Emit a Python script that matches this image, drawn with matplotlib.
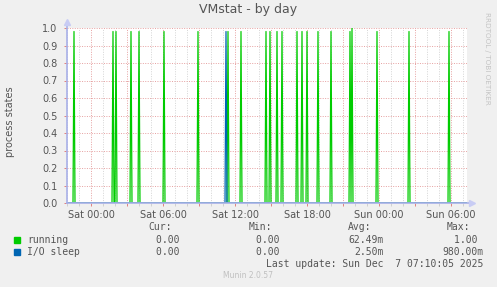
import matplotlib
matplotlib.use('Agg')
import matplotlib.pyplot as plt
import matplotlib.dates as mdates
from datetime import datetime, timedelta

# 数据
t_start = datetime(2025, 12, 5, 22, 0)
t_end = datetime(2025, 12, 7, 7, 20)

running_times = ['2025-12-05 22:35', '2025-12-06 01:50', '2025-12-06 02:05',
                 '2025-12-06 03:20', '2025-12-06 04:00', '2025-12-06 06:05',
                 '2025-12-06 08:55', '2025-12-06 11:25', '2025-12-06 12:30',
                 '2025-12-06 14:35', '2025-12-06 14:55', '2025-12-06 15:30',
                 '2025-12-06 15:55', '2025-12-06 17:10', '2025-12-06 17:35',
                 '2025-12-06 18:00', '2025-12-06 18:55', '2025-12-06 20:00',
                 '2025-12-06 21:35', '2025-12-06 21:45', '2025-12-06 23:50',
                 '2025-12-07 02:30', '2025-12-07 05:50']
running_peaks = [0.98, 0.98, 0.98, 0.98, 0.98, 0.98, 0.98, 0.98, 0.98,
                 0.98, 0.98, 0.98, 0.98, 0.98, 0.98, 0.98, 0.98, 0.98,
                 0.98, 1.00, 0.98, 0.98, 0.98]
iosleep_times = ['2025-12-06 11:15']
iosleep_peaks = [0.98]

series_names = ['running', 'I/O sleep']
series_colors = ['#00cc00', '#0066b3']
cur_vals = ['0.00 ', '0.00 ']
min_vals = ['0.00 ', '0.00 ']
avg_vals = ['62.49m', '2.50m']
max_vals = ['1.00 ', '980.00m']

W, H = 497, 287
step = timedelta(minutes=5)


def spikes(times, peaks):
    # 零基线上的尖峰
    xs, ys = [t_start], [0.0]
    for s, v in zip(times, peaks):
        t = datetime.strptime(s, '%Y-%m-%d %H:%M')
        xs += [t - step, t, t + step]
        ys += [0.0, v, 0.0]
    xs.append(t_end)
    ys.append(0.0)
    return xs, ys


def fx(px):
    return px / W


def fy(py):
    return 1 - py / H


fig = plt.figure(figsize=(W / 100, H / 100), dpi=100, facecolor='#f0f0f0')
ax = fig.add_axes([fx(67), fy(203), 400 / W, 175 / H])
ax.set_facecolor('white')

x1, y1 = spikes(running_times, running_peaks)
x2, y2 = spikes(iosleep_times, iosleep_peaks)
ax.plot(x1, y1, color=series_colors[0], lw=0.9, zorder=3)
ax.plot(x2, y2, color=series_colors[1], lw=0.9, zorder=3)

ax.set_xlim(t_start, t_end)
ax.set_ylim(0, 1.0)

# x 轴刻度
ax.xaxis.set_major_locator(mdates.HourLocator(interval=3))
ax.xaxis.set_minor_locator(mdates.HourLocator())


def xfmt(v, pos):
    d = mdates.num2date(v)
    return d.strftime('%a %H:%M') if d.hour % 6 == 0 else ''


ax.xaxis.set_major_formatter(plt.FuncFormatter(xfmt))
ax.set_yticks([i / 10 for i in range(11)])
ax.yaxis.set_major_formatter(plt.FormatStrFormatter('%.1f'))

ax.grid(which='minor', axis='x', color='#d4d4d4', lw=0.7, ls=(0, (1, 1.5)), zorder=1)
ax.grid(which='major', axis='both', color='#e6a0a0', lw=0.7, ls=(0, (1, 1.5)), zorder=1)
ax.tick_params(which='major', length=2, width=0.7, color='#e08080',
               labelsize=7, labelcolor='#555555', pad=3)
ax.tick_params(which='minor', length=2, width=0.7, color='#d0d0d0')
ax.tick_params(axis='y', pad=5)

for sp in ax.spines.values():
    sp.set_visible(False)

# 坐标轴线和箭头
axc = '#a8b0e8'
ax.plot([0, 0], [0, 1.03], color=axc, lw=1.2, transform=ax.transAxes, clip_on=False, zorder=5)
ax.plot([0, 1.01], [0, 0], color=axc, lw=1.2, transform=ax.transAxes, clip_on=False, zorder=5)
ax.plot([0], [1.035], marker='^', ms=4, color='#c8ccf4', transform=ax.transAxes, clip_on=False, zorder=5)
ax.plot([1.012], [0], marker='>', ms=4, color='#c8ccf4', transform=ax.transAxes, clip_on=False, zorder=5)

# 标题和标签
fig.text(fx(248), fy(10), 'VMstat - by day', ha='center', va='center',
         fontsize=9, color='#555555')
fig.text(fx(10), fy(122), 'process states', rotation=90, ha='center', va='center',
         fontsize=7, color='#555555')
fig.text(fx(487), fy(58), 'RRDTOOL / TOBI OETIKER', rotation=270, ha='center', va='center',
         fontsize=5.2, color='#c4c4c4')

# 图例 (等宽字体)
mono = 'DejaVu Sans Mono'
cw = 5.86
col_right = [185, 285, 384, 483]
headers = ['Cur:', 'Min:', 'Avg:', 'Max:']
for r, h in zip(col_right, headers):
    fig.text(fx(r - 13), fy(227), h, ha='right', va='center', family=mono,
             fontsize=7, color='#555555')

for i, name in enumerate(series_names):
    y = 240 + 12 * i
    fig.patches.append(plt.Rectangle((fx(14), fy(y + 3)), 6 / W, 6 / H,
                                     transform=fig.transFigure, color=series_colors[i]))
    fig.text(fx(27), fy(y), name, ha='left', va='center', family=mono,
             fontsize=7, color='#555555')
    vals = [cur_vals[i], min_vals[i], avg_vals[i], max_vals[i]]
    for r, s in zip(col_right, vals):
        fig.text(fx(r - len(s) * cw), fy(y), s, ha='left', va='center', family=mono,
                 fontsize=7, color='#555555')

fig.text(fx(483), fy(264), 'Last update: Sun Dec  7 07:10:05 2025', ha='right', va='center',
         family=mono, fontsize=7, color='#555555')
fig.text(fx(248), fy(276), 'Munin 2.0.57', ha='center', va='center',
         fontsize=5.5, color='#c0c0c0')

fig.savefig('out.png', dpi=100, facecolor=fig.get_facecolor())
